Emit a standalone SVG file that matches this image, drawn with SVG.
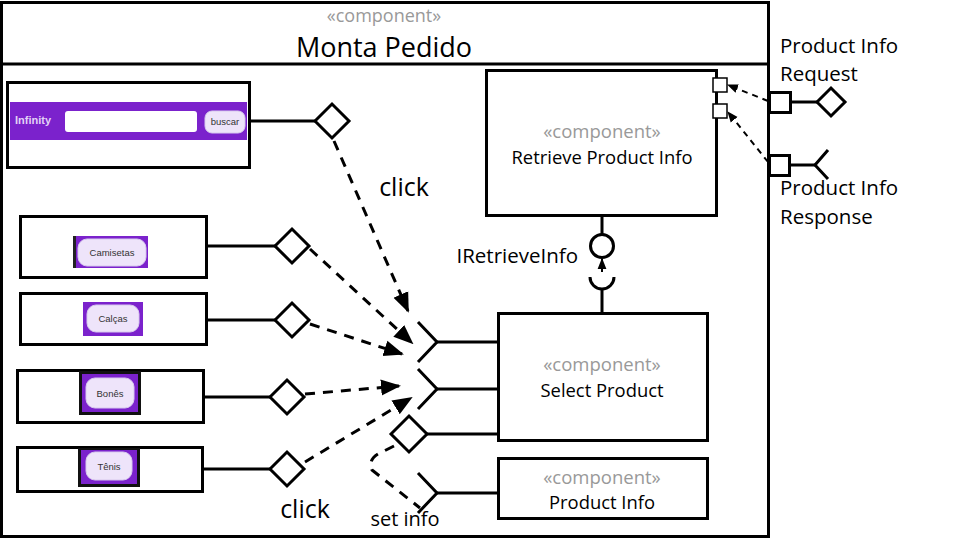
<svg xmlns="http://www.w3.org/2000/svg" width="960" height="540" viewBox="0 0 960 540">
<style>
.ln{fill:none;stroke:#000;stroke-width:3}
.box{fill:#fff;stroke:#000;stroke-width:3}
.dash{fill:none;stroke:#000;stroke-width:3;stroke-dasharray:10 8}
.dsm{fill:none;stroke:#000;stroke-width:2;stroke-dasharray:6 5}
.t{font-family:"Open Sans","Liberation Sans",sans-serif;fill:#000}
.st{font-family:"Open Sans","Liberation Sans",sans-serif;fill:#999}
.pur{fill:#7B22CC}
.btn{fill:#EEE4FA;stroke:#d8c9ee;stroke-width:1}
.bt{font-family:"Liberation Sans",Arial,sans-serif;fill:#333;font-size:9.5px;text-anchor:middle}
</style>
<defs>
<marker id="ahb" viewBox="0 0 10 10" refX="9" refY="5" markerWidth="20" markerHeight="20" markerUnits="userSpaceOnUse" orient="auto">
<path d="M0,1 L10,5 L0,9 z" fill="#000"/>
</marker>
<marker id="ahs" viewBox="0 0 10 10" refX="9" refY="5" markerWidth="11" markerHeight="11" markerUnits="userSpaceOnUse" orient="auto">
<path d="M0,1 L10,5 L0,9 z" fill="#000"/>
</marker>
</defs>

<g id="monta-pedido">
<rect class="box" x="1.5" y="2.5" width="767" height="534"/>
<line class="ln" x1="0" y1="64" x2="768" y2="64"/>
<text class="st" x="384" y="22" font-size="18" text-anchor="middle">«component»</text>
<text class="t" x="384" y="57" font-size="27" text-anchor="middle">Monta Pedido</text>
</g>

<g id="search-bar">
<rect class="box" x="7.5" y="82.5" width="242" height="85"/>
<rect class="pur" x="10" y="102" width="237" height="38"/>
<text x="15" y="124" font-family="'Liberation Sans',Arial,sans-serif" font-size="11" fill="#E2D2F6" font-weight="bold">Infinity</text>
<rect x="65" y="111" width="132" height="21" rx="3" fill="#fff"/>
<rect class="btn" x="205" y="111" width="40" height="22" rx="7"/>
<text class="bt" x="225" y="125" font-size="7.5">buscar</text>
</g>

<g id="camisetas">
<rect class="box" x="20.5" y="216.5" width="186" height="61"/>
<rect class="pur" x="73" y="236" width="75" height="32"/>
<rect x="73" y="236" width="3" height="32" fill="#222"/>
<rect class="btn" x="78" y="239" width="68" height="27" rx="9"/>
<text class="bt" x="112" y="256">Camisetas</text>
</g>

<g id="calcas">
<rect class="box" x="20.5" y="293.5" width="186" height="51"/>
<rect class="pur" x="83" y="302" width="60" height="34"/>
<rect class="btn" x="87" y="305" width="52" height="27" rx="9"/>
<text class="bt" x="113" y="322">Calças</text>
</g>

<g id="bones">
<rect class="box" x="17.5" y="370.5" width="186" height="52"/>
<rect x="79" y="371" width="62" height="44" fill="#111"/>
<rect class="pur" x="82" y="374" width="56" height="38"/>
<rect class="btn" x="86" y="378" width="48" height="30" rx="9"/>
<text class="bt" x="110" y="397">Bonês</text>
</g>

<g id="tenis">
<rect class="box" x="17.5" y="447.5" width="185" height="44"/>
<rect x="78" y="448" width="62" height="39" fill="#111"/>
<rect class="pur" x="81" y="450" width="56" height="34"/>
<rect class="btn" x="86" y="452" width="46" height="28" rx="9"/>
<text class="bt" x="109" y="470">Tênis</text>
</g>

<g id="retrieve-product-info">
<rect class="box" x="486.5" y="70.5" width="230" height="145"/>
<text class="st" x="602" y="138" font-size="18.5" text-anchor="middle">«component»</text>
<text class="t" x="602" y="164" font-size="18.4" text-anchor="middle">Retrieve Product Info</text>
<rect x="713" y="78" width="14" height="14" fill="#fff" stroke="#000" stroke-width="1.5"/>
<rect x="713" y="104" width="14" height="14" fill="#fff" stroke="#000" stroke-width="1.5"/>
</g>

<g id="select-product">
<rect class="box" x="498.5" y="313.5" width="209" height="127"/>
<text class="st" x="602" y="371" font-size="18.5" text-anchor="middle">«component»</text>
<text class="t" x="602" y="397" font-size="18.4" text-anchor="middle">Select Product</text>
</g>

<g id="product-info">
<rect class="box" x="498.5" y="458.5" width="209" height="60"/>
<text class="st" x="602" y="484" font-size="18.5" text-anchor="middle">«component»</text>
<text class="t" x="602" y="509" font-size="18.4" text-anchor="middle">Product Info</text>
</g>

<g id="port-request">
<rect x="769.5" y="92.5" width="21" height="20" fill="#fff" stroke="#000" stroke-width="3"/>
<line class="ln" x1="791" y1="102" x2="817" y2="102"/>
<path class="ln" d="M817,102 L831,88 L845,102 L831,116 Z" fill="#fff"/>
<text class="t" x="780" y="53" font-size="20.5">Product Info</text>
<text class="t" x="780" y="81" font-size="20.5">Request</text>
</g>

<g id="port-response">
<rect x="769.5" y="155.5" width="20" height="20" fill="#fff" stroke="#000" stroke-width="3"/>
<line class="ln" x1="790" y1="165" x2="815" y2="165"/>
<path class="ln" d="M828,150 L815,165 L828,179"/>
<text class="t" x="780" y="195" font-size="20.5">Product Info</text>
<text class="t" x="780" y="224" font-size="20.5">Response</text>
</g>

<g id="interfaces">
<line class="ln" x1="602" y1="215" x2="602" y2="234"/>
<circle cx="602" cy="246" r="11.5" fill="#fff" stroke="#000" stroke-width="3"/>
<path class="ln" d="M590,277 A12,12 0 0 0 614,277"/>
<line class="ln" x1="602" y1="289" x2="602" y2="313"/>
<text class="t" x="578" y="263" font-size="20.5" text-anchor="end">IRetrieveInfo</text>

<path class="ln" d="M418,322 L437,342 L418,362"/>
<line class="ln" x1="437" y1="342" x2="498" y2="342"/>
<path class="ln" d="M418,369 L437,389 L418,409"/>
<line class="ln" x1="437" y1="389" x2="498" y2="389"/>
<path class="ln" d="M391,434 L409,416 L427,434 L409,452 Z" fill="#fff"/>
<line class="ln" x1="427" y1="434" x2="498" y2="434"/>
<path class="ln" d="M418,473 L437,493 L418,513"/>
<line class="ln" x1="437" y1="493" x2="498" y2="493"/>

<line class="ln" x1="250" y1="121" x2="315" y2="121"/>
<path class="ln" d="M315,121 L332,104 L349,121 L332,138 Z" fill="#fff"/>
<line class="ln" x1="206" y1="246" x2="275" y2="246"/>
<path class="ln" d="M275,246 L292,229 L309,246 L292,263 Z" fill="#fff"/>
<line class="ln" x1="207" y1="320" x2="275" y2="320"/>
<path class="ln" d="M275,320 L292,303 L309,320 L292,337 Z" fill="#fff"/>
<line class="ln" x1="203" y1="397" x2="270" y2="397"/>
<path class="ln" d="M270,397 L287,380 L304,397 L287,414 Z" fill="#fff"/>
<line class="ln" x1="203" y1="469" x2="270" y2="469"/>
<path class="ln" d="M270,469 L287,452 L304,469 L287,486 Z" fill="#fff"/>
</g>

<g id="connectors">
<line class="dash" x1="334" y1="141" x2="408" y2="311" marker-end="url(#ahb)"/>
<line class="dash" x1="310" y1="249" x2="412" y2="343" marker-end="url(#ahb)"/>
<line class="dash" x1="310" y1="324" x2="402" y2="354" marker-end="url(#ahb)"/>
<line class="dash" x1="305" y1="394" x2="399" y2="386" marker-end="url(#ahb)"/>
<line class="dash" x1="305" y1="462" x2="411" y2="398" marker-end="url(#ahb)"/>
<path class="dash" d="M394,446 L378,454 Q368,460 372,470 L420,508"/>
<line class="dsm" x1="602" y1="272" x2="602" y2="259" marker-end="url(#ahs)"/>
<line class="dsm" x1="768" y1="101" x2="728" y2="85" marker-end="url(#ahs)"/>
<line class="dsm" x1="768" y1="162" x2="728" y2="112" marker-end="url(#ahs)"/>
</g>

<g id="labels">
<text class="t" x="404" y="196" font-size="25" text-anchor="middle">click</text>
<text class="t" x="305" y="518" font-size="25" text-anchor="middle">click</text>
<text class="t" x="405" y="526" font-size="20" text-anchor="middle">set info</text>
</g>
</svg>
